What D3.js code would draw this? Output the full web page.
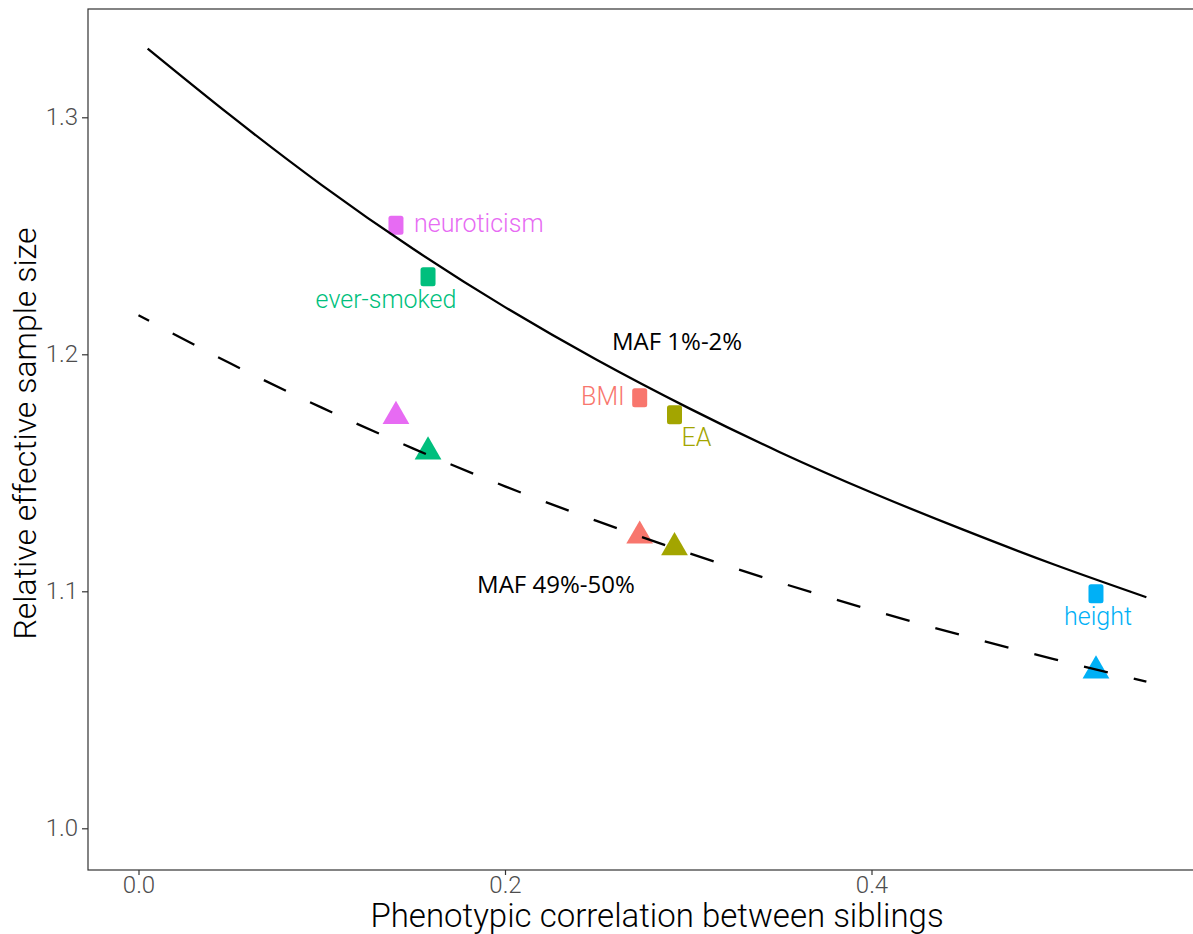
<!DOCTYPE html>
<html>
<head>
<meta charset="utf-8">
<script src="https://cdn.jsdelivr.net/npm/d3@7"></script>
<style>
  html, body { margin: 0; padding: 0; background: #fff; }
  svg { display: block; }
  .tick text { font-family: Roboto, "Liberation Sans", sans-serif; font-weight: 300; }
</style>
</head>
<body>
<svg id="chart"></svg>
<script>
// traits, sibling correlations and effective sample size for the two MAF bins
const traits = ['neuroticism', 'ever-smoked', 'BMI', 'EA', 'height'];
const sibCorr = [0.1405, 0.1580, 0.2735, 0.2925, 0.5225];
const effRare = [1.2544, 1.2327, 1.1817, 1.1745, 1.0990];     // MAF 1%-2%
const effCommon = [1.1739, 1.1589, 1.1234, 1.1185, 1.0665];   // MAF 49%-50%
const traitColors = ['#E76BF3', '#00BF7D', '#F8766D', '#A3A500', '#00B0F6'];

// theoretical curves
const curveCorrRare = [0.005, 0.05, 0.10, 0.15, 0.20, 0.25, 0.30, 0.35, 0.40, 0.45, 0.50, 0.55];
const curveEffRare = [1.3290, 1.3009, 1.2714, 1.2444, 1.2199, 1.1977, 1.1774, 1.1587, 1.1417, 1.1260, 1.1112, 1.0975];
const curveCorrCommon = [0.00, 0.05, 0.10, 0.15, 0.20, 0.25, 0.30, 0.35, 0.40, 0.45, 0.50, 0.55];
const curveEffCommon = [1.2165, 1.1962, 1.1775, 1.1602, 1.1443, 1.1297, 1.1162, 1.1037, 1.0921, 1.0813, 1.0713, 1.0619];

// curve labels
const curveLabels = ['MAF 1%-2%', 'MAF 49%-50%'];
const curveLabelX = [0.2939, 0.2278];
const curveLabelY = [1.2052, 1.1030];

// axis ticks
const xTicks = [0.0, 0.2, 0.4];
const yTicks = [1.0, 1.1, 1.2, 1.3];

// label offsets from the square marker (px)
const labelLayout = {
  'neuroticism': { dx: 18, dy: 7, anchor: 'start' },
  'ever-smoked': { dx: -42, dy: 31, anchor: 'middle' },
  'BMI':         { dx: -15, dy: 7.5, anchor: 'end' },
  'EA':          { dx: 22, dy: 31, anchor: 'middle' },
  'height':      { dx: 2, dy: 31, anchor: 'middle' }
};

const width = 1193;
const height = 934;
const panel = { left: 88, top: 9, right: 1226, bottom: 870 };

const svg = d3.select('#chart')
  .attr('width', width)
  .attr('height', height)
  .attr('viewBox', `0 0 ${width} ${height}`);

const x = d3.scaleLinear().domain([0, 0.4]).range([138.5, 871.5]);
const y = d3.scaleLinear().domain([1.0, 1.3]).range([828.3, 117.3]);

// panel border
svg.append('rect')
  .attr('x', panel.left)
  .attr('y', panel.top)
  .attr('width', panel.right - panel.left)
  .attr('height', panel.bottom - panel.top)
  .attr('fill', 'none')
  .attr('stroke', '#333')
  .attr('stroke-width', 1.2);

// axes
const xAxis = svg.append('g')
  .attr('transform', `translate(0,${panel.bottom})`)
  .call(d3.axisBottom(x).tickValues(xTicks).tickFormat(d3.format('.1f')).tickSize(5).tickPadding(1));
const yAxis = svg.append('g')
  .attr('transform', `translate(${panel.left},0)`)
  .call(d3.axisLeft(y).tickValues(yTicks).tickFormat(d3.format('.1f')).tickSize(6).tickPadding(4));

[xAxis, yAxis].forEach(ax => {
  ax.select('.domain').remove();
  ax.selectAll('.tick line').attr('stroke', '#333').attr('stroke-width', 1.2);
  ax.selectAll('.tick text').attr('fill', '#4D4D4D').attr('font-size', 24);
});

// axis titles
svg.append('text')
  .attr('x', (panel.left + panel.right) / 2)
  .attr('y', 927)
  .attr('text-anchor', 'middle')
  .attr('font-family', 'Roboto, "Liberation Sans", sans-serif')
  .attr('font-weight', 300)
  .attr('font-size', 33)
  .attr('fill', '#000')
  .text('Phenotypic correlation between siblings');

svg.append('text')
  .attr('transform', `translate(36,${(panel.top + panel.bottom) / 2 - 6}) rotate(-90)`)
  .attr('text-anchor', 'middle')
  .attr('font-family', 'Roboto, "Liberation Sans", sans-serif')
  .attr('font-weight', 300)
  .attr('font-size', 32)
  .attr('fill', '#000')
  .text('Relative effective sample size');

const plot = svg.append('g');

// triangles: MAF 49%-50%
plot.selectAll('.tri')
  .data(traits)
  .enter()
  .append('path')
    .attr('class', 'tri')
    .attr('d', d3.symbol().type(d3.symbolTriangle).size(310))
    .attr('transform', (d, i) => `translate(${x(sibCorr[i])},${y(effCommon[i])})`)
    .attr('fill', (d, i) => traitColors[i]);

// squares: MAF 1%-2%
const sqW = 15, sqH = 19;
plot.selectAll('.sq')
  .data(traits)
  .enter()
  .append('rect')
    .attr('class', 'sq')
    .attr('x', (d, i) => x(sibCorr[i]) - sqW / 2)
    .attr('y', (d, i) => y(effRare[i]) - sqH / 2)
    .attr('width', sqW)
    .attr('height', sqH)
    .attr('rx', 2.5)
    .attr('fill', (d, i) => traitColors[i]);

// curves
const line = d3.line()
  .x(d => x(d[0]))
  .y(d => y(d[1]))
  .curve(d3.curveNatural);

plot.append('path')
  .attr('d', line(d3.zip(curveCorrRare, curveEffRare)))
  .attr('fill', 'none')
  .attr('stroke', '#000')
  .attr('stroke-width', 2.3);

const dashed = plot.append('path')
  .attr('d', line(d3.zip(curveCorrCommon, curveEffCommon)))
  .attr('fill', 'none')
  .attr('stroke', '#000')
  .attr('stroke-width', 2.3);

// fit the dash period so both ends carry a short partial dash, as in the reference
{
  const L = dashed.node().getTotalLength();
  const headDash = 12, tailDash = 13, ratio = 24.7 / 51.7, p0 = 51.7;
  const n = Math.round((L - headDash - tailDash) / p0 - (1 - ratio));
  const p = (L - headDash - tailDash) / (n + 1 - ratio);
  const dash = ratio * p, gap = (1 - ratio) * p;
  dashed.attr('stroke-dasharray', `${dash} ${gap}`)
    .attr('stroke-dashoffset', dash - headDash);
}

// trait labels
plot.selectAll('.lab')
  .data(traits)
  .enter()
  .append('text')
    .attr('class', 'lab')
    .attr('x', (d, i) => x(sibCorr[i]) + labelLayout[d].dx)
    .attr('y', (d, i) => y(effRare[i]) + labelLayout[d].dy)
    .attr('text-anchor', d => labelLayout[d].anchor)
    .attr('font-family', 'Roboto, "Liberation Sans", sans-serif')
    .attr('font-weight', 300)
    .attr('font-size', 25)
    .attr('fill', (d, i) => traitColors[i])
    .text(d => d);

// curve labels
plot.selectAll('.maf')
  .data(curveLabels)
  .enter()
  .append('text')
    .attr('class', 'maf')
    .attr('x', (d, i) => x(curveLabelX[i]))
    .attr('y', (d, i) => y(curveLabelY[i]))
    .attr('dy', '0.35em')
    .attr('text-anchor', 'middle')
    .attr('font-family', '"Open Sans", "Noto Sans", sans-serif')
    .attr('font-size', 24)
    .attr('fill', '#000')
    .text(d => d);
</script>
</body>
</html>
